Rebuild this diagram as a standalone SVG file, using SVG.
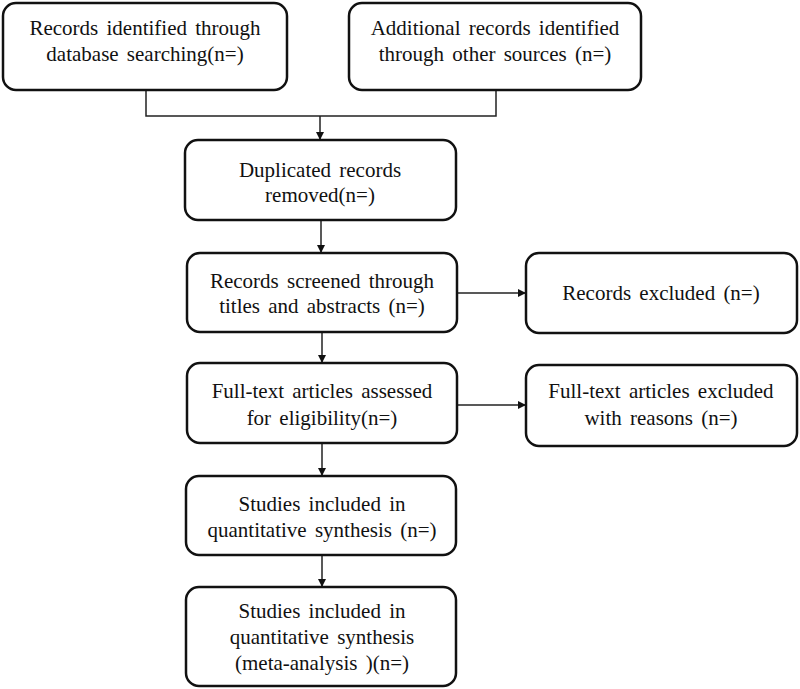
<svg xmlns="http://www.w3.org/2000/svg" width="800" height="689" viewBox="0 0 800 689">
<style>
.box{fill:#fff;stroke:#111;stroke-width:2.5}
.t{font-family:"Liberation Serif","Times New Roman",serif;font-size:21px;fill:#111;text-anchor:middle;word-spacing:3px}
.c{fill:none;stroke:#222;stroke-width:1.5}
</style>
<defs>
<marker id="ah" viewBox="0 0 10 10" refX="10" refY="5" markerWidth="8" markerHeight="8" markerUnits="userSpaceOnUse" orient="auto">
<path d="M0,0 L10,5 L0,10 z" fill="#111"/>
</marker>
</defs>
<rect width="800" height="689" fill="#fff"/>
<g id="connectors">
<path class="c" d="M146,90 V116 H496 V90"/>
<path class="c" d="M320,116 V140" marker-end="url(#ah)"/>
<path class="c" d="M321,220 V253" marker-end="url(#ah)"/>
<path class="c" d="M457,293 H526" marker-end="url(#ah)"/>
<path class="c" d="M322,332 V363" marker-end="url(#ah)"/>
<path class="c" d="M457,405 H526" marker-end="url(#ah)"/>
<path class="c" d="M322,443 V476" marker-end="url(#ah)"/>
<path class="c" d="M322,555 V587" marker-end="url(#ah)"/>
</g>
<g id="n1"><rect class="box" x="3" y="3" width="284" height="87" rx="13"/>
<text class="t" x="145" y="35">Records identified through</text>
<text class="t" x="145" y="61">database searching(n=)</text></g>
<g id="n2"><rect class="box" x="349" y="3" width="292" height="87" rx="13"/>
<text class="t" x="495" y="35">Additional records identified</text>
<text class="t" x="495" y="61">through other sources (n=)</text></g>
<g id="n3"><rect class="box" x="185" y="140" width="271" height="80" rx="13"/>
<text class="t" x="320" y="177">Duplicated records</text>
<text class="t" x="320" y="202">removed(n=)</text></g>
<g id="n4"><rect class="box" x="187" y="253" width="270" height="79" rx="13"/>
<text class="t" x="322" y="288">Records screened through</text>
<text class="t" x="322" y="313">titles and abstracts (n=)</text></g>
<g id="n5"><rect class="box" x="526" y="253" width="271" height="80" rx="13"/>
<text class="t" x="661" y="300">Records excluded (n=)</text></g>
<g id="n6"><rect class="box" x="187" y="363" width="270" height="80" rx="13"/>
<text class="t" x="322" y="398">Full-text articles assessed</text>
<text class="t" x="322" y="425">for eligibility(n=)</text></g>
<g id="n7"><rect class="box" x="526" y="365" width="271" height="81" rx="13"/>
<text class="t" x="661" y="398">Full-text articles excluded</text>
<text class="t" x="661" y="425">with reasons (n=)</text></g>
<g id="n8"><rect class="box" x="186" y="476" width="270" height="79" rx="13"/>
<text class="t" x="322" y="511">Studies included in</text>
<text class="t" x="322" y="537">quantitative synthesis (n=)</text></g>
<g id="n9"><rect class="box" x="186" y="587" width="270" height="99" rx="13"/>
<text class="t" x="322" y="618">Studies included in</text>
<text class="t" x="322" y="644">quantitative synthesis</text>
<text class="t" x="322" y="670">(meta-analysis )(n=)</text></g>
</svg>
